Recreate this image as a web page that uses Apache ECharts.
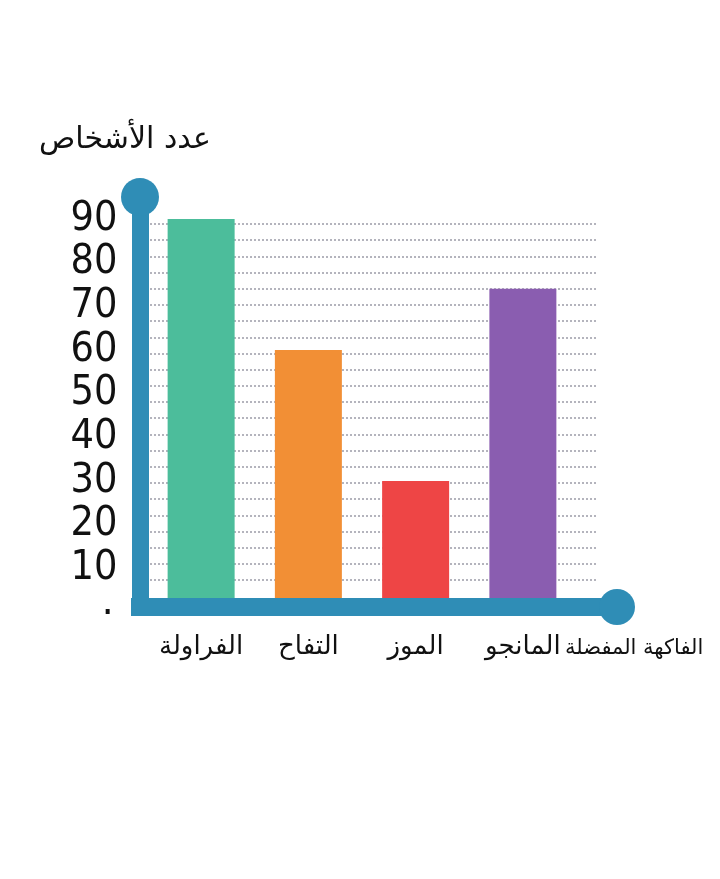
<!DOCTYPE html>
<html>
<head>
<meta charset="utf-8">
<script src="https://cdn.jsdelivr.net/npm/echarts@6/dist/echarts.min.js"></script>
<style>
  html, body { margin: 0; padding: 0; background: #ffffff; }
  #chart { width: 720px; height: 879px; }
</style>
</head>
<body>
<div id="chart"></div>
<script>
// البيانات
var fruits = ['الفراولة', 'التفاح', 'الموز', 'المانجو'];
var people = [90, 60, 30, 74];
var barColors = ['#4cbd9b', '#f28f35', '#ee4545', '#8a5db0'];
var yTicks = [0, 10, 20, 30, 40, 50, 60, 70, 80, 90];
var gridRows = 22; // dotted background rows

var axisBlue = '#2f8db6';
var numFont = '"Liberation Sans Narrow", "DejaVu Sans Condensed", sans-serif';
var arFont = '"DejaVu Sans", "Noto Sans", sans-serif';

var myChart = echarts.init(document.getElementById('chart'));

var option = {
    backgroundColor: '#ffffff',
    animation: false,
    grid: [
        // bars
        { left: 147.5, width: 429, top: 219, bottom: 879 - 612 },
        // frame (thick axes with round ends)
        { left: 140, width: 477, top: 197, bottom: 879 - 607 },
        // dotted background
        { left: 150, width: 447, top: 224, bottom: 879 - 580 }
    ],
    xAxis: [
        {
            type: 'category',
            gridIndex: 0,
            data: fruits,
            axisLine: { show: false },
            axisTick: { show: false },
            axisLabel: {
                interval: 0,
                margin: 22,
                color: '#111111',
                fontSize: 26,
                fontFamily: arFont
            }
        },
        {
            type: 'value',
            gridIndex: 1,
            min: 0, max: 1,
            z: 10,
            name: 'الفاكهة المفضلة',
            nameLocation: 'end',
            nameGap: -52,
            nameTextStyle: {
                color: '#111111',
                fontSize: 21,
                fontFamily: arFont,
                align: 'left',
                verticalAlign: 'top',
                padding: [31, 0, 0, 0]
            },
            axisLine: {
                show: true,
                symbol: ['none', 'circle'],
                symbolSize: [36, 36],
                lineStyle: { color: axisBlue, width: 18, cap: 'square' }
            },
            axisTick: { show: false },
            axisLabel: { show: false },
            splitLine: { show: false }
        },
        {
            type: 'value',
            gridIndex: 2,
            min: 0, max: 1,
            show: false,
            splitLine: { show: false }
        }
    ],
    yAxis: [
        {
            type: 'value',
            gridIndex: 0,
            min: yTicks[0],
            max: yTicks[yTicks.length - 1],
            interval: 10,
            axisLine: { show: false },
            axisTick: { show: false },
            splitLine: { show: false },
            axisLabel: {
                margin: 30,
                color: '#111111',
                fontSize: 41,
                fontFamily: numFont,
                formatter: function (v) { return v === 0 ? '٠' : String(v); }
            }
        },
        {
            type: 'value',
            gridIndex: 1,
            min: 0, max: 1,
            z: 10,
            name: 'عدد الأشخاص',
            nameLocation: 'end',
            nameGap: 42,
            nameTextStyle: {
                color: '#111111',
                fontSize: 30,
                fontFamily: arFont,
                padding: [0, 30, 0, 0]
            },
            axisLine: {
                show: true,
                symbol: ['none', 'circle'],
                symbolSize: [38, 38],
                lineStyle: { color: axisBlue, width: 17, cap: 'square' }
            },
            axisTick: { show: false },
            axisLabel: { show: false },
            splitLine: { show: false }
        },
        {
            type: 'value',
            gridIndex: 2,
            min: 0, max: gridRows,
            interval: 1,
            axisLine: { show: false },
            axisTick: { show: false },
            axisLabel: { show: false },
            splitLine: {
                show: true,
                lineStyle: { color: '#b4b4bd', width: 2, type: [2, 2] }
            }
        }
    ],
    series: [
        {
            name: 'عدد الأشخاص',
            type: 'bar',
            xAxisIndex: 0,
            yAxisIndex: 0,
            barWidth: 67,
            z: 2,
            data: people.map(function (v, i) {
                return { value: v, itemStyle: { color: barColors[i] } };
            })
        }
    ]
};

myChart.setOption(option);
</script>
</body>
</html>
